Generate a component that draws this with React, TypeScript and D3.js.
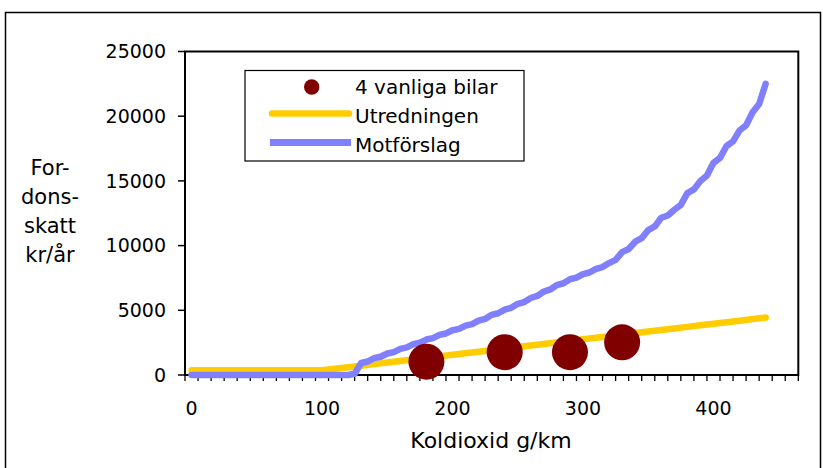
import React from 'react';
import * as d3 from 'd3';

// Vehicle tax (kr/år) as a function of CO2 emissions (g/km)
const co2Grid = [0, 10, 20, 30, 40, 50, 60, 70, 80, 90, 100, 110, 120, 130, 140, 150, 160, 170, 180, 190, 200, 210, 220, 230, 240, 250, 260, 270, 280, 290, 300, 310, 320, 330, 340, 350, 360, 370, 380, 390, 400, 410, 420, 430, 440];
const utredningenTax = [360, 360, 360, 360, 360, 360, 360, 360, 360, 360, 360, 480, 600, 720, 840, 960, 1080, 1200, 1320, 1440, 1560, 1680, 1800, 1920, 2040, 2160, 2280, 2400, 2520, 2640, 2760, 2880, 3000, 3120, 3240, 3360, 3480, 3600, 3720, 3840, 3960, 4080, 4200, 4320, 4440];

const motCo2 = [0, 5, 10, 15, 20, 25, 30, 35, 40, 45, 50, 55, 60, 65, 70, 75, 80, 85, 90, 95, 100, 105, 110, 115, 120, 125, 130, 135, 140, 145, 150, 155, 160, 165, 170, 175, 180, 185, 190, 195, 200, 205, 210, 215, 220, 225, 230, 235, 240, 245, 250, 255, 260, 265, 270, 275, 280, 285, 290, 295, 300, 305, 310, 315, 320, 325, 330, 335, 340, 345, 350, 355, 360, 365, 370, 375, 380, 385, 390, 395, 400, 405, 410, 415, 420, 425, 430, 435, 440];
const motTax = [0, 0, 0, 0, 0, 0, 0, 0, 0, 0, 0, 0, 0, 0, 0, 0, 0, 0, 0, 0, 0, 0, 0, 0, 0,
  100, 930, 1040, 1300, 1410, 1660, 1770, 2020, 2130, 2380,
  2490, 2740, 2850, 3100, 3210, 3460, 3570, 3820, 3930, 4200,
  4330, 4650, 4770, 5050, 5190, 5500, 5640, 5950, 6110, 6450,
  6610, 6950, 7090, 7400, 7520, 7800, 7920, 8200, 8340, 8650,
  8900, 9500, 9740, 10300, 10570, 11200, 11480, 12150, 12330, 12770,
  13150, 14060, 14340, 15000, 15420, 16400, 16780, 17700, 18050, 18900,
  19300, 20300, 20950, 22500];

const carCo2 = [180, 240, 290, 330];
const carTax = [1030, 1760, 1760, 2530];

const yTickValues = [0, 5000, 10000, 15000, 20000, 25000];
const xLabelValues = [0, 100, 200, 300, 400];
const yTitleLines = ['For-', 'dons-', 'skatt', 'kr/år'];
const legendLabels = ['4 vanliga bilar', 'Utredningen', 'Motförslag'];

const W = 823;
const H = 468;
const FONT = "'DejaVu Sans', Verdana, sans-serif";
const YELLOW = '#FFCC00';
const PURPLE = '#8080FF';
const MAROON = '#800000';

const plot = { left: 185, right: 798.3, top: 51.5, bottom: 375 };

export default function App() {
  // category axis: each 10 g/km slot is one band, points sit at band centres
  const x = d3.scaleLinear().domain([-5, 465]).range([plot.left, plot.right]);
  const y = d3.scaleLinear().domain([0, 25000]).range([plot.bottom, plot.top]);

  const line = d3
    .line<[number, number]>()
    .x((d) => x(d[0]))
    .y((d) => y(d[1]));

  const yellowPath = line(co2Grid.map((c, i) => [c, utredningenTax[i]]));
  const purplePath = line(motCo2.map((c, i) => [c, motTax[i]]));
  const minorTicks = d3.range(-5, 466, 10);

  const legend = { x: 245, y: 70.5, w: 279, h: 90.5 };
  const rowBase = [94, 123, 152];

  return (
    <svg
      width={W}
      height={H}
      style={{ position: 'absolute', left: 0, top: 0, background: '#fff' }}
      fontFamily={FONT}
    >
      <rect x={5.5} y={12.5} width={815} height={470} fill="#fff" stroke="#000" strokeWidth={1.5} />

      {/* plot frame */}
      <rect
        x={plot.left}
        y={plot.top}
        width={plot.right - plot.left}
        height={plot.bottom - plot.top}
        fill="none"
        stroke="#000"
        strokeWidth={2}
      />

      {/* y axis ticks and labels */}
      {yTickValues.map((v) => (
        <g key={v}>
          <line x1={plot.left - 7} x2={plot.left} y1={y(v)} y2={y(v)} stroke="#000" strokeWidth={1.5} />
          <text x={166} y={y(v)} dy="0.36em" textAnchor="end" fontSize={19} fill="#000">
            {v}
          </text>
        </g>
      ))}

      {/* x axis ticks */}
      {minorTicks.map((t) => (
        <line key={t} x1={x(t)} x2={x(t)} y1={plot.bottom} y2={plot.bottom + 6} stroke="#000" strokeWidth={1.3} />
      ))}
      {xLabelValues.map((v) => (
        <text key={v} x={x(v)} y={415} textAnchor="middle" fontSize={19} fill="#000">
          {v}
        </text>
      ))}

      <text x={491} y={448} textAnchor="middle" fontSize={22} fill="#000">
        Koldioxid g/km
      </text>
      {yTitleLines.map((s, i) => (
        <text key={s} x={50} y={175 + i * 29} textAnchor="middle" fontSize={21} fill="#000">
          {s}
        </text>
      ))}

      {/* series */}
      <path d={yellowPath || ''} fill="none" stroke={YELLOW} strokeWidth={6.5} strokeLinejoin="round" strokeLinecap="round" />
      <path d={purplePath || ''} fill="none" stroke={PURPLE} strokeWidth={6.5} strokeLinejoin="round" strokeLinecap="round" />
      {carCo2.map((c, i) => (
        <circle key={c} cx={x(c)} cy={y(carTax[i])} r={18} fill={MAROON} />
      ))}

      {/* legend */}
      <rect x={legend.x} y={legend.y} width={legend.w} height={legend.h} fill="#fff" stroke="#000" strokeWidth={1.2} />
      <circle cx={311.7} cy={rowBase[0] - 7} r={7.7} fill={MAROON} />
      <line x1={272} x2={349} y1={rowBase[1] - 9.5} y2={rowBase[1] - 9.5} stroke={YELLOW} strokeWidth={6.5} strokeLinecap="round" />
      <line x1={270} x2={351} y1={rowBase[2] - 9.5} y2={rowBase[2] - 9.5} stroke={PURPLE} strokeWidth={7} />
      {legendLabels.map((s, i) => (
        <text key={s} x={355} y={rowBase[i]} fontSize={20} fill="#000">
          {s}
        </text>
      ))}
    </svg>
  );
}
